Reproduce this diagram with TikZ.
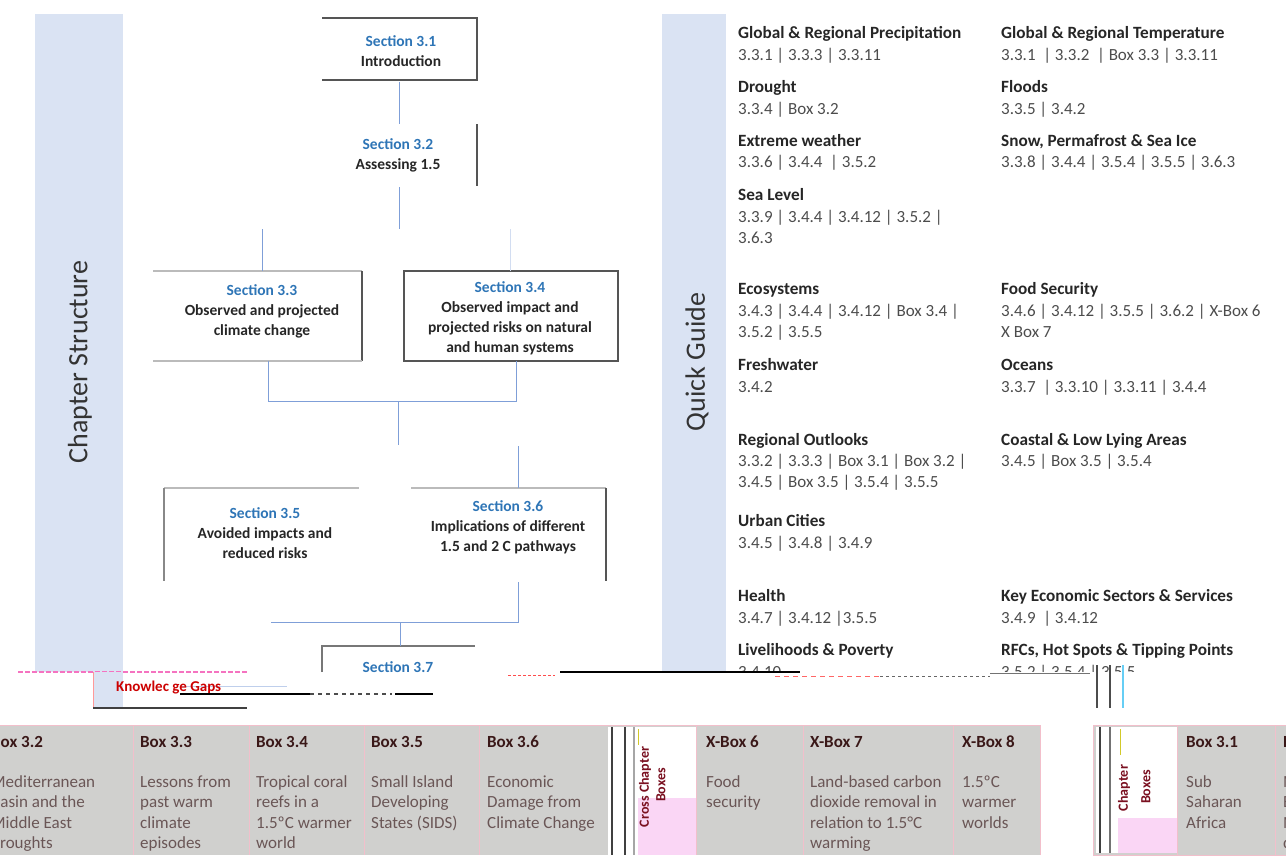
\documentclass[tikz,border=0pt]{standalone}
\usepackage{fontspec}
\setmainfont{Carlito}
\definecolor{bandblue}{HTML}{DAE3F3}
\definecolor{secblue}{HTML}{2E75B6}
\definecolor{connblue}{HTML}{7F9FD8}
\definecolor{boxgray}{HTML}{555555}
\definecolor{panelgray}{HTML}{D0D0CE}
\definecolor{pinkb}{HTML}{F2BFCB}
\definecolor{pinkfill}{HTML}{FAD6F5}
\definecolor{titlered}{HTML}{3A1818}
\definecolor{bodytxt}{HTML}{6A5656}
\definecolor{xred}{HTML}{7A1020}
\begin{document}
\begin{tikzpicture}[x=1pt,y=-1pt,
  secshape/.style={rectangle, draw=none, inner sep=0, outer sep=0},
  edge/.style={line width=1.4pt, draw=boxgray},
  edgelt/.style={line width=1.2pt, draw=boxgray!40},
  conn/.style={line width=0.9pt, draw=connblue},
  connlt/.style={line width=0.7pt, draw=connblue!35},
  sectxt/.style={font=\fontsize{15.5}{20}\selectfont\bfseries, align=center, text=black!85, inner sep=0},
  vhead/.style={font=\fontsize{28}{32}\selectfont, rotate=90, text=black!80, inner sep=0},
  qgt/.style={font=\fontsize{17.2}{21}\selectfont\bfseries, anchor=base west, inner sep=0, text=black!85},
  qgr/.style={font=\fontsize{17}{21}\selectfont, anchor=base west, align=left, inner sep=0, text=black!70},
  bxt/.style={font=\fontsize{17}{20.5}\selectfont\bfseries, anchor=base west, inner sep=0, text=titlered},
  bxb/.style={font=\fontsize{17}{20.5}\selectfont, anchor=base west, align=left, inner sep=0, text=bodytxt},
  xlab/.style={font=\fontsize{14}{16}\selectfont\bfseries, rotate=90, inner sep=0, text=xred},
  divider/.style={draw=pinkb, line width=0.8pt}
]
\useasboundingbox (0,0) rectangle (1286,855);

% ---------- side bands ----------
\fill[bandblue] (35,14) rectangle (123,672);
\node[vhead] (chs) at (80,362) {Chapter Structure};
\fill[bandblue] (662,14) rectangle (726,672);
\node[vhead] (qgd) at (697,362) {Quick Guide};

% ---------- section boxes (shapes) ----------
\node[secshape, minimum width=155, minimum height=62] (s31) at (399.5,49) {};
\node[secshape, minimum width=155, minimum height=62] (s32) at (399.5,155) {};
\node[secshape, minimum width=209, minimum height=90] (s33) at (257.5,316) {};
\node[secshape, minimum width=214, minimum height=90] (s34) at (511,316) {};
\node[secshape, minimum width=195, minimum height=93] (s35) at (261.5,534.5) {};
\node[secshape, minimum width=195, minimum height=93] (s36) at (508.5,534.5) {};
\node[secshape, minimum width=153, minimum height=26] (s37) at (398.5,659) {};

\draw[edge] (s31.north west) -- (s31.north east) -- (s31.south east) -- (s31.south west);
\draw[edge] (s32.north east) -- (s32.south east);
\draw[edgelt] (s33.north west) -- (s33.north east);
\draw[edge] (s33.north east) -- (s33.south east);
\draw[edgelt] (s33.south east) -- (s33.south west);
\draw[edge] (s34.north west) rectangle (s34.south east);
\draw[edgelt] (s35.north west) -- (s35.north east);
\draw[edge, draw=boxgray!70] (s35.north west) -- (s35.south west);
\draw[edgelt] (s36.north west) -- (s36.north east);
\draw[edge] (s36.north east) -- (s36.south east);
\draw[edge, draw=boxgray!80] (s37.south west) -- (s37.north west) -- (s37.north east);

% ---------- section texts ----------
\node[sectxt] (s31t) at (401,51) {\textcolor{secblue}{Section 3.1}\\Introduction};
\node[sectxt] (s32t) at (398,155) {\textcolor{secblue}{Section 3.2}\\Assessing 1.5};
\node[sectxt] (s33t) at (262,311.5) {\textcolor{secblue}{Section 3.3}\\Observed and projected\\climate change};
\node[sectxt] (s34t) at (510,318) {\textcolor{secblue}{Section 3.4}\\Observed impact and\\projected risks on natural\\and human systems};
\node[sectxt] (s35t) at (265,533.5) {\textcolor{secblue}{Section 3.5}\\Avoided impacts and\\reduced risks};
\node[sectxt] (s36t) at (508,527) {\textcolor{secblue}{Section 3.6}\\Implications of different\\1.5 and 2 C pathways};
\node[sectxt, text=secblue] (s37t) at (398,667) {Section 3.7};

% ---------- connectors ----------
\coordinate (j1) at (399.5,229);
\coordinate (j1l) at (262,229);
\coordinate (j1r) at (510,229);
\coordinate (j2l) at (268,401);
\coordinate (j2r) at (516,401);
\coordinate (j2) at (398,401);
\coordinate (j3) at (398,445);
\coordinate (j4) at (518,446);
\coordinate (j5) at (518,622);
\coordinate (j5l) at (271,622);
\coordinate (j6) at (400,622);
\draw[conn] ([yshift=-1.5pt]s31.south) -- (s32.north);
\draw[conn] ([yshift=-1pt]s32.south) -- (j1);
\draw[conn] (j1l) -- (j1l |- s33.north);
\draw[connlt] (j1r) -- (j1r |- s34.north);
\draw[conn] (j2l |- s33.south) -- (j2l) -- (j2r) -- (j2r |- s34.south);
\draw[conn] (j2) -- (j3);
\draw[conn] (j4) -- (j4 |- s36.north);
\draw[conn] ([yshift=-1pt]j5 |- s36.south) -- (j5) -- (j5l);
\draw[conn] (j6) -- (j6 |- s37.north);

% ---------- quick guide ----------
\node[qgt] (q1t) at (738,38) {Global \& Regional Precipitation};
\node[qgr] (q1r) at (738,60) {3.3.1 | 3.3.3 | 3.3.11};
\node[qgt] (q2t) at (1001,38) {Global \& Regional Temperature};
\node[qgr] (q2r) at (1001,60) {3.3.1 \ | 3.3.2 \ | Box 3.3 | 3.3.11};
\node[qgt] (q3t) at (738,92) {Drought};
\node[qgr] (q3r) at (738,114) {3.3.4 | Box 3.2};
\node[qgt] (q4t) at (1001,92) {Floods};
\node[qgr] (q4r) at (1001,114) {3.3.5 | 3.4.2};
\node[qgt] (q5t) at (738,146) {Extreme weather};
\node[qgr] (q5r) at (738,167) {3.3.6 | 3.4.4 \ | 3.5.2};
\node[qgt] (q6t) at (1001,146) {Snow, Permafrost \& Sea Ice};
\node[qgr] (q6r) at (1001,167) {3.3.8 | 3.4.4 | 3.5.4 | 3.5.5 | 3.6.3};
\node[qgt] (q7t) at (738,200) {Sea Level};
\node[qgr] (q7r) at (738,243) {3.3.9 | 3.4.4 | 3.4.12 | 3.5.2 |\\3.6.3};
\node[qgt] (q8t) at (738,294) {Ecosystems};
\node[qgr] (q8r) at (738,337) {3.4.3 | 3.4.4 | 3.4.12 | Box 3.4 |\\3.5.2 | 3.5.5};
\node[qgt] (q9t) at (1001,294) {Food Security};
\node[qgr] (q9r) at (1001,337) {3.4.6 | 3.4.12 | 3.5.5 | 3.6.2 | X-Box 6\\X Box 7};
\node[qgt] (q10t) at (738,370) {Freshwater};
\node[qgr] (q10r) at (738,392) {3.4.2};
\node[qgt] (q11t) at (1001,370) {Oceans};
\node[qgr] (q11r) at (1001,392) {3.3.7 \ | 3.3.10 | 3.3.11 | 3.4.4};
\node[qgt] (q12t) at (738,445) {Regional Outlooks};
\node[qgr] (q12r) at (738,487) {3.3.2 | 3.3.3 | Box 3.1 | Box 3.2 |\\3.4.5 | Box 3.5 | 3.5.4 | 3.5.5};
\node[qgt] (q13t) at (1001,445) {Coastal \& Low Lying Areas};
\node[qgr] (q13r) at (1001,466) {3.4.5 | Box 3.5 | 3.5.4};
\node[qgt] (q14t) at (738,526) {Urban Cities};
\node[qgr] (q14r) at (738,548) {3.4.5 | 3.4.8 | 3.4.9};
\node[qgt] (q15t) at (738,601) {Health};
\node[qgr] (q15r) at (738,623) {3.4.7 | 3.4.12 |3.5.5};
\node[qgt] (q16t) at (1001,601) {Key Economic Sectors \& Services};
\node[qgr] (q16r) at (1001,623) {3.4.9 \ | 3.4.12};
\node[qgt] (q17t) at (738,655) {Livelihoods \& Poverty};
\node[qgt] (q18t) at (1001,655) {RFCs, Hot Spots \& Tipping Points};
\begin{scope}
  \clip (700,660) rectangle (1286,671);
  \node[qgr] (q17r) at (738,677) {3.4.10};
  \node[qgr] (q18r) at (1001,677) {3.5.2 | 3.5.4 | 3.5.5};
\end{scope}

% ---------- broken strip ----------
\draw[magenta!55, line width=1.3pt, dash pattern=on 5pt off 2pt] (18,672) -- (247,672);
\fill[bandblue] (94,672) rectangle (123,708);
\draw[pink!80!red, line width=0.6pt] (93,672) -- (93,708);
\draw[connblue!50, line width=0.7pt] (180,686) -- (287,686);
\node[font=\fontsize{15}{18}\selectfont\bfseries, text=red!80!black, inner sep=0, anchor=west] (kg) at (116,687) {Knowlec ge Gaps};
\draw[black, line width=1.3pt] (180,694) -- (310,694);
\draw[black!70, line width=1.3pt, dash pattern=on 4pt off 4pt] (310,694) -- (392,694);
\draw[black, line width=2.2pt] (395,694) -- (433,694);
\draw[black!75, line width=1.3pt] (93,708) -- (247,708);
\draw[red!70, line width=0.8pt, dash pattern=on 3pt off 2pt] (508,675) -- (555,675);
\draw[black, line width=1.4pt] (560,672) -- (800,672);
\draw[red!60, line width=0.8pt, dash pattern=on 5pt off 4pt] (775,676) -- (880,676);
\draw[black!60, line width=1pt, dash pattern=on 3pt off 3pt] (880,676) -- (990,676);
\draw[black!55, line width=1pt] (990,673) -- (1090,673);
\draw[black!70, line width=2pt] (1097,665) -- (1097,708);
\draw[black!70, line width=2pt] (1110,665) -- (1110,708);
\draw[cyan!60, line width=1.5pt] (1123,665) -- (1123,708);

% ---------- bottom panel A ----------
\fill[panelgray] (0,725) rectangle (1040,855);
\fill[white] (608,727) rectangle (696,855);
\fill[pinkfill] (638,798) rectangle (696,855);
\draw[divider] (0,725) -- (1040,725) -- (1040,855);
\draw[black!75, line width=1.8pt] (612,727) -- (612,855);
\draw[black!75, line width=1.8pt] (625,727) -- (625,855);
\draw[black!35, line width=1.5pt] (634,727) -- (634,855);
\draw[yellow!80!black, line width=1pt] (638,729) -- (638,745);
\foreach \xx in {133,249,364,479,696,803,953} \draw[divider] (\xx,725) -- (\xx,855);
\node[xlab] (cc1) at (645,787) {Cross Chapter};
\node[xlab] (cc2) at (661,785) {Boxes};

\begin{scope}
\clip (0,725) rectangle (1040,855);
\node[bxt] (b32t) at (-9,747) {Box 3.2};
\node[bxb] (b32b) at (-9,848.5) {Mediterranean\\Basin and the\\Middle East\\droughts};
\end{scope}
\node[bxt] (b33t) at (140,747) {Box 3.3};
\node[bxb] (b33b) at (140,848.5) {Lessons from\\past warm\\climate\\episodes};
\node[bxt] (b34t) at (256,747) {Box 3.4};
\node[bxb] (b34b) at (256,848.5) {Tropical coral\\reefs in a\\1.5ºC warmer\\world};
\node[bxt] (b35t) at (371,747) {Box 3.5};
\node[bxb] (b35b) at (371,828) {Small Island\\Developing\\States (SIDS)};
\node[bxt] (b36t) at (487,747) {Box 3.6};
\node[bxb] (b36b) at (487,828) {Economic\\Damage from\\Climate Change};
\node[bxt] (x6t) at (706,747) {X-Box 6};
\node[bxb] (x6b) at (706,807.5) {Food\\security};
\node[bxt] (x7t) at (810,747) {X-Box 7};
\node[bxb] (x7b) at (810,848.5) {Land-based carbon\\dioxide removal in\\relation to 1.5°C\\warming};
\node[bxt] (x8t) at (962,747) {X-Box 8};
\node[bxb] (x8b) at (962,828) {1.5ºC\\warmer\\worlds};

% ---------- bottom panel B ----------
\fill[panelgray] (1093,725) rectangle (1286,855);
\fill[white] (1096,727) rectangle (1177,853);
\fill[pinkfill] (1118,818) rectangle (1177,853);
\draw[divider] (1286,725) -- (1093,725) -- (1093,855) -- (1286,855);
\draw[black!75, line width=1.8pt] (1100,727) -- (1100,853);
\draw[black!55, line width=1.8pt] (1110,727) -- (1110,853);
\draw[yellow!80!black, line width=1pt] (1120,729) -- (1120,755);
\foreach \xx in {1177,1275} \draw[divider] (\xx,725) -- (\xx,855);
\node[xlab] (cb1) at (1124,788) {Chapter};
\node[xlab] (cb2) at (1146,787) {Boxes};
\node[bxt] (b31t) at (1186,747) {Box 3.1};
\node[bxb] (b31b) at (1186,828) {Sub\\Saharan\\Africa};
\begin{scope}
\clip (1093,725) rectangle (1286,855);
\node[bxt] (b32t2) at (1283,747) {Box 3.2};
\node[bxb] (b32b2) at (1283,848.5) {Mediterranean\\Basin and the\\Middle East\\droughts};
\end{scope}
\end{tikzpicture}
\end{document}
